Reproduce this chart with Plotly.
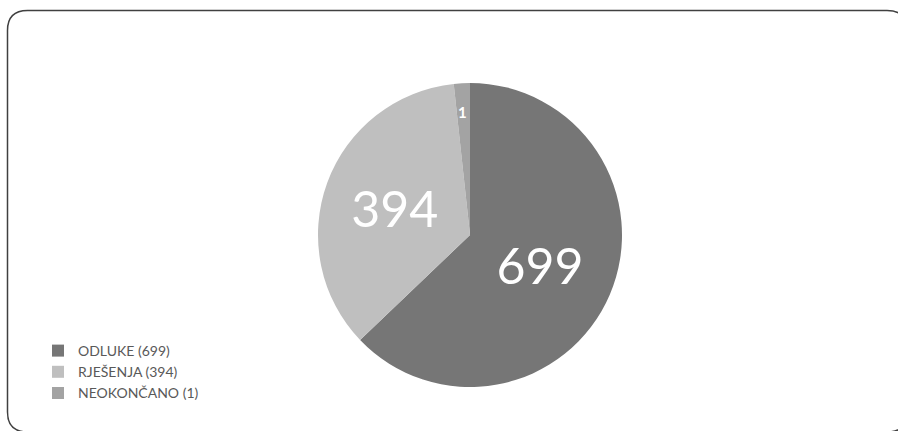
import math
import plotly.graph_objects as go

# Data
categories = ["ODLUKE", "RJEŠENJA", "NEOKONČANO"]
counts = [699, 394, 1]                 # values printed on the chart
slice_sizes = [699, 394, 19]           # slice sizes as they appear in the picture
colors = ["#767676", "#BFBFBF", "#A3A3A3"]

W, H = 898, 431

legend_names = [f"{c} ({n})" for c, n in zip(categories, counts)]
text_labels = [str(counts[0]), str(counts[1]), ""]

pie_x = [318 / W, 622 / W]
pie_y = [1 - 387 / H, 1 - 83 / H]

fig = go.Figure()
fig.add_trace(go.Pie(
    labels=legend_names,
    values=slice_sizes,
    text=text_labels,
    textinfo="text",
    textposition="inside",
    insidetextorientation="horizontal",
    textfont=dict(family="Lato", size=50, color="white"),
    marker=dict(colors=colors, line=dict(width=0)),
    sort=False,
    direction="clockwise",
    rotation=0,
    hoverinfo="label+value",
    domain=dict(x=pie_x, y=pie_y),
))

# label of the thin slice, placed at its mid-angle (derived from the data)
total = sum(slice_sizes)
start = sum(slice_sizes[:2]) / total * 360
mid = math.radians(start + slice_sizes[2] / total * 360 / 2)
cx, cy = sum(pie_x) / 2, sum(pie_y) / 2
rx_p, ry_p = (pie_x[1] - pie_x[0]) / 2, (pie_y[1] - pie_y[0]) / 2
rfrac = 0.88
ann = dict(
    x=cx + rfrac * rx_p * math.sin(mid),
    y=cy + rfrac * ry_p * math.cos(mid),
    xref="paper", yref="paper", showarrow=False,
    text=f"<b>{counts[2]}</b>",
    font=dict(family="Lato", size=15, color="white"),
)

# rounded chart border (paper coordinates, figure with zero margins)
x0, x1 = 7.5 / W, 907 / W
y0, y1 = 1 - 432 / H, 1 - 10.5 / H
rx, ry = 20 / W, 20 / H
path = (f"M {x0+rx},{y1} L {x1-rx},{y1} Q {x1},{y1} {x1},{y1-ry} "
        f"L {x1},{y0+ry} Q {x1},{y0} {x1-rx},{y0} "
        f"L {x0+rx},{y0} Q {x0},{y0} {x0},{y0+ry} "
        f"L {x0},{y1-ry} Q {x0},{y1} {x0+rx},{y1} Z")

fig.update_layout(
    width=W, height=H,
    margin=dict(l=0, r=0, t=0, b=0),
    paper_bgcolor="white",
    plot_bgcolor="white",
    font=dict(family="Lato", color="#595959"),
    showlegend=True,
    legend=dict(
        x=38 / W, y=1 - 335 / H, xanchor="left", yanchor="top",
        font=dict(family="Lato", size=14, color="#595959"),
        itemwidth=30, tracegroupgap=0,
        bgcolor="rgba(0,0,0,0)",
    ),
    annotations=[ann],
    shapes=[dict(type="path", path=path, xref="paper", yref="paper",
                 line=dict(color="#404040", width=1.5), layer="above")],
)

fig.write_html("out.html", config={"displayModeBar": False},
               post_script="document.body.style.margin='0px';")
